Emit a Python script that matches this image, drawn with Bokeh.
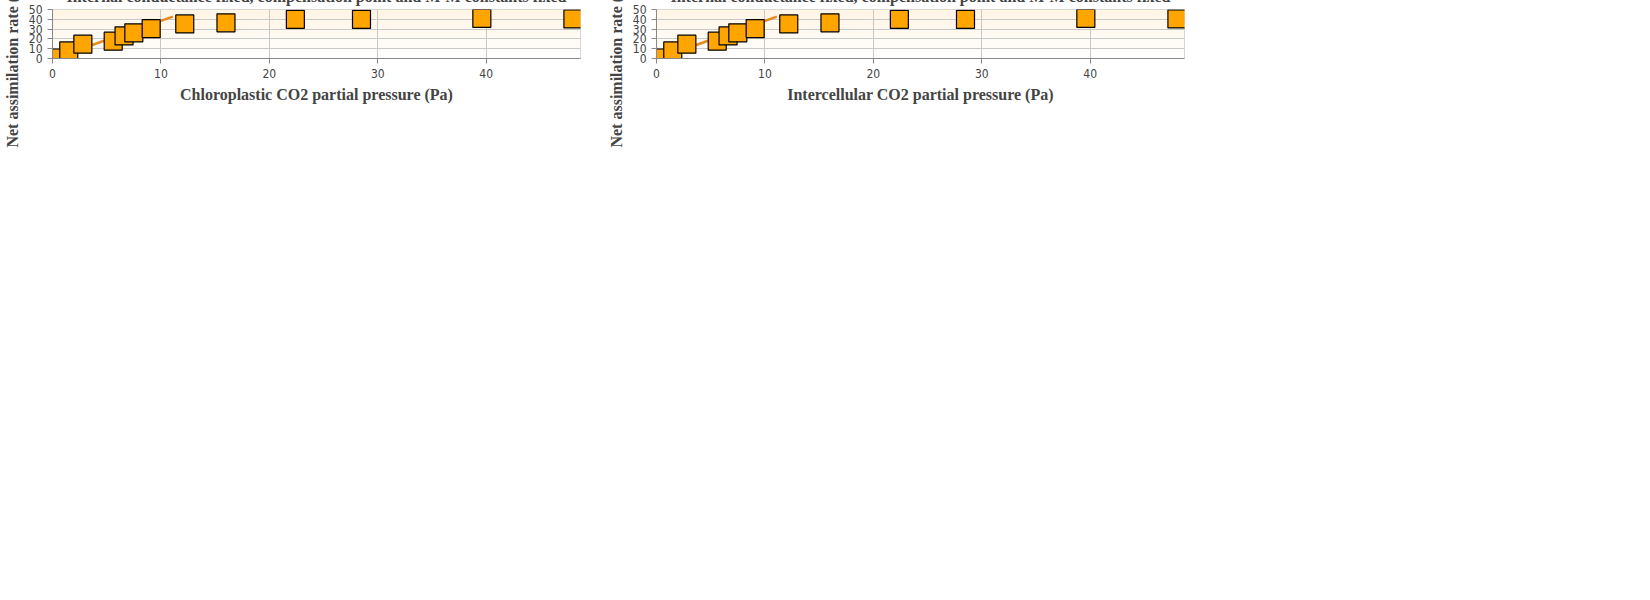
import numpy as np
from bokeh.plotting import figure
from bokeh.layouts import row
from bokeh.models import Title, Legend, LegendItem, FixedTicker, Range1d
from bokeh.embed import file_html
from bokeh.resources import INLINE

ci = [0.3, 1.5, 2.8, 5.6, 6.6, 7.5, 9.1, 12.2, 16.0, 22.4, 28.5, 39.6, 48.0]
anet = [0.5, 7.7, 14.6, 17.7, 23.0, 26.2, 30.4, 35.3, 36.4, 39.9, 39.9, 40.9, 40.4]
fit_x = [1.1, 11.1]
fit_y = [3.8, 42.7]
x_labels = ["Chloroplastic CO2 partial pressure (Pa)", "Intercellular CO2 partial pressure (Pa)"]
title1 = "LeafWeb curveID = Uvalde_26_Corn_19r.csv"
title2 = "Internal conductance fixed, compensation point and M-M constants fixed"

def make(xlabel):
    p = figure(frame_width=700, frame_height=368, output_backend="svg", toolbar_location=None,
               x_range=Range1d(0, 48.7), y_range=Range1d(0, 50), sizing_mode="fixed",
               min_border_left=20, min_border_right=20, min_border_top=24, min_border_bottom=0)
    n = 100
    img = np.zeros((n, 1), dtype=np.uint32)
    v = img.view(dtype=np.uint8).reshape((n, 1, 4))
    t = np.linspace(0, 1, n)
    v[:, 0, 0] = 255
    v[:, 0, 1] = (255 - t * 10).astype(np.uint8)
    v[:, 0, 2] = (255 - t * 26).astype(np.uint8)
    v[:, 0, 3] = 255
    p.image_rgba(image=[img], x=0, y=0, dw=48.7, dh=50, level="image")
    p.line(fit_x, fit_y, line_color="#e8891a", line_width=2.5)
    sq = p.scatter(ci, anet, marker="square", size=18, fill_color="#ffa500", line_color="black", line_width=1.2)
    r1 = p.scatter([-10], [-10], marker="diamond", size=14, fill_color="#e0101a", line_color="#e0101a")
    r2 = p.scatter([-10], [-10], marker="circle", size=13, fill_color="#0010ee", line_color="#0010ee")
    leg = Legend(items=[LegendItem(label="Rubisco-limited", renderers=[r1]),
                        LegendItem(label="RuBP regeneration-limited", renderers=[r2]),
                        LegendItem(label="TPU-limited", renderers=[sq])],
                 orientation="horizontal", border_line_color=None, background_fill_alpha=0,
                 label_text_font="DejaVu Sans", label_text_font_size="16px", spacing=40,
                 location=(-60, 0), margin=22, padding=6)
    p.add_layout(leg, "below")
    p.add_layout(Title(text=title2, text_font="Liberation Serif", text_font_size="16px", align="center"), "above")
    p.add_layout(Title(text=title1, text_font="Liberation Serif", text_font_size="16px", align="center"), "above")
    p.xaxis.axis_label = xlabel
    p.yaxis.axis_label = "Net assimilation rate (umol/m2/s)"
    for ax in (p.xaxis, p.yaxis):
        ax.axis_label_text_font = "Liberation Serif"
        ax.axis_label_text_font_style = "bold"
        ax.axis_label_text_font_size = "16px"
        ax.major_label_text_font = "DejaVu Sans Condensed"
        ax.major_label_text_font_size = "12px"
        ax.axis_line_color = "#888888"
        ax.major_tick_line_color = "#888888"
        ax.minor_tick_line_color = None
        ax.major_tick_in = 0
        ax.major_tick_out = 5
    p.xaxis.ticker = FixedTicker(ticks=[0, 10, 20, 30, 40])
    p.yaxis.ticker = FixedTicker(ticks=[0, 10, 20, 30, 40, 50])
    p.grid.grid_line_color = "#c8c8c8"
    p.outline_line_color = "#cccccc"
    return p

lay = row(make(x_labels[0]), make(x_labels[1]), spacing=4)
open("out.html", "w").write(file_html(lay, INLINE))
